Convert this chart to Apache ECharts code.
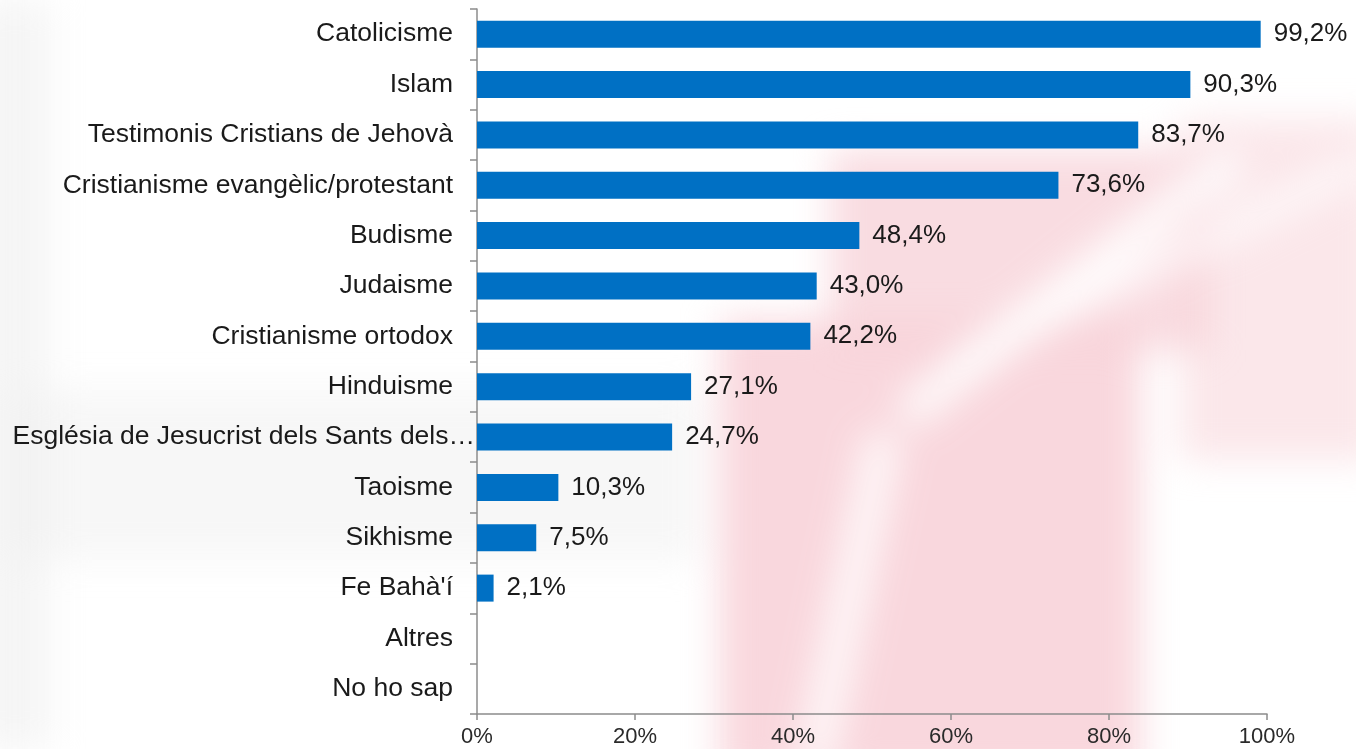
<!DOCTYPE html>
<html>
<head>
<meta charset="utf-8">
<script src="https://cdn.jsdelivr.net/npm/echarts@6/dist/echarts.min.js"></script>
<style>
html,body{margin:0;padding:0;background:#fff;overflow:hidden}
#wrap{position:relative;width:1356px;height:749px;overflow:hidden;background:#fff}
#bg{position:absolute;left:0;top:0;width:1356px;height:749px;filter:blur(18px)}
#bg div{position:absolute}
#c{position:absolute;left:0;top:0;width:1356px;height:749px}
</style>
</head>
<body>
<div id="wrap">
  <div id="bg">
    <div style="left:0;top:390px;width:700px;height:170px;background:#f1f1f1;opacity:.55"></div>
    <div style="left:-20px;top:0;width:70px;height:749px;background:#efefef;opacity:.6"></div>
    <div style="left:720px;top:320px;width:420px;height:460px;background:#f8d3d9;opacity:.9"></div>
    <div style="left:830px;top:150px;width:380px;height:200px;background:#f8d3d9;opacity:.8"></div>
    <div style="left:1180px;top:120px;width:200px;height:340px;background:#f8d3d9;opacity:.55"></div>
    <div style="left:860px;top:270px;width:420px;height:34px;background:#fff;opacity:.9;transform:rotate(-38deg)"></div>
    <div style="left:930px;top:250px;width:460px;height:26px;background:#fff;opacity:.75;transform:rotate(-26deg)"></div>
    <div style="left:830px;top:430px;width:38px;height:340px;background:#fff;opacity:.8;transform:rotate(12deg)"></div>
  </div>
  <div id="c"></div>
</div>
<script>
const categories = ["Catolicisme","Islam","Testimonis Cristians de Jehovà","Cristianisme evangèlic/protestant","Budisme","Judaisme","Cristianisme ortodox","Hinduisme","Església de Jesucrist dels Sants dels…","Taoisme","Sikhisme","Fe Bahà'í","Altres","No ho sap"];
const values = [99.2, 90.3, 83.7, 73.6, 48.4, 43.0, 42.2, 27.1, 24.7, 10.3, 7.5, 2.1, null, null];
const xTicks = [0, 20, 40, 60, 80, 100];

// the truncated label runs up to the axis line in the original
const yData = categories.map(c => c.endsWith('…') ? { value: c, textStyle: { padding: [0, -22, 0, 0] } } : c);

const chart = echarts.init(document.getElementById('c'));
chart.setOption({
  backgroundColor: 'transparent',
  animation: false,
  grid: { left: 477, right: 89, top: 9, bottom: 35, containLabel: false, outerBoundsMode: 'none' },
  xAxis: {
    type: 'value', min: 0, max: 100, interval: 20,
    axisLine: { show: true, lineStyle: { color: '#8c8c8c', width: 1.5 } },
    axisTick: { show: true, length: 6, lineStyle: { color: '#8c8c8c', width: 1.5 } },
    splitLine: { show: false },
    axisLabel: { fontFamily: 'Liberation Sans, Arial', fontSize: 22, color: '#2a2a2a', margin: 12,
      formatter: v => xTicks.includes(v) ? v + '%' : '' }
  },
  yAxis: {
    type: 'category', data: yData, inverse: true,
    axisLine: { show: true, lineStyle: { color: '#8c8c8c', width: 1.5 } },
    axisTick: { show: true, length: 7, alignWithLabel: false, lineStyle: { color: '#8c8c8c', width: 1.5 } },
    axisLabel: { fontFamily: 'Liberation Sans, Arial', fontSize: 26.5, color: '#1a1a1a', margin: 24 }
  },
  series: [{
    type: 'bar', data: values, barWidth: 27,
    itemStyle: { color: '#0070c4' },
    label: { show: true, position: 'right', distance: 13, fontFamily: 'Liberation Sans, Arial', fontSize: 26, color: '#1a1a1a',
      formatter: p => p.value == null ? '' : p.value.toFixed(1).replace('.', ',') + '%' }
  }]
});
</script>
</body>
</html>
